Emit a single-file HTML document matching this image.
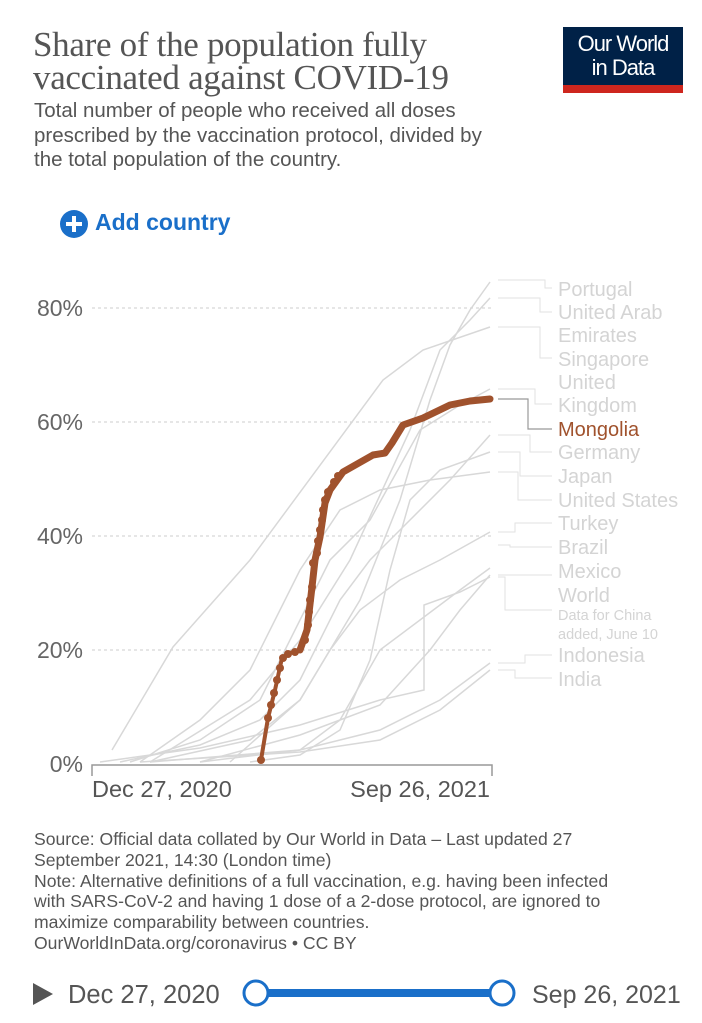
<!DOCTYPE html>
<html><head><meta charset="utf-8"><style>
body{margin:0;width:702px;height:1023px;background:#fff;position:relative;overflow:hidden;font-family:"Liberation Sans",sans-serif}
.a{position:absolute;white-space:nowrap}
.t{font-family:"Liberation Serif",serif;font-size:35px;color:#555;left:33px;line-height:33px;letter-spacing:-0.3px}
.s{left:34px;font-size:20.5px;color:#555;line-height:24.5px}
.src{left:34px;font-size:17.6px;color:#555;line-height:20.8px}
</style></head><body>
<div class="a t" style="top:28px">Share of the population fully<br>vaccinated against COVID-19</div>
<div class="a s" style="top:99px">Total number of people who received all doses<br>prescribed by the vaccination protocol, divided by<br>the total population of the country.</div>
<div class="a" style="left:563px;top:27px;width:120px;height:58px;background:#002147;color:#fff;font-size:22px;line-height:24px;text-align:center;padding-top:5px;box-sizing:border-box;letter-spacing:-1px">Our World<br>in Data</div>
<div class="a" style="left:563px;top:85px;width:120px;height:8px;background:#ce261e"></div>
<div class="a" style="left:60px;top:210px;width:28px;height:28px;border-radius:50%;background:#1a6fc9"></div>
<div class="a" style="left:66px;top:222px;width:16px;height:4px;background:#fff"></div>
<div class="a" style="left:72px;top:216px;width:4px;height:16px;background:#fff"></div>
<div class="a" style="left:95px;top:209px;font-size:23px;color:#1a6fc9;font-weight:bold">Add country</div>
<svg class="a" style="left:0;top:0" width="702" height="1023">
<g stroke="#ccc" stroke-dasharray="3,3" stroke-width="1">
<line x1="92" x2="492" y1="308" y2="308"/><line x1="92" x2="492" y1="422" y2="422"/><line x1="92" x2="492" y1="536" y2="536"/><line x1="92" x2="492" y1="650" y2="650"/></g>
<g font-size="23" fill="#666" text-anchor="end"><text x="83" y="316">80%</text><text x="83" y="430">60%</text><text x="83" y="544">40%</text><text x="83" y="658">20%</text><text x="83" y="772">0%</text></g>
<path d="M92,776 V765 H492 V776" fill="none" stroke="#999" stroke-width="1.5"/>
<g font-size="23.5" fill="#555"><text x="92" y="797">Dec 27, 2020</text><text x="490" y="797" text-anchor="end">Sep 26, 2021</text></g>
<g fill="none" stroke="#d8d8d8" stroke-width="1.5">
<path d="M112,750 L173,647 L250,560 L383,380 L423,350 L490,327"/>
<path d="M230,762 L300,700 L360,600 L400,500 L430,400 L450,345 L470,310 L490,282"/>
<path d="M150,762 L250,700 L300,640 L350,560 L410,430 L440,350 L470,320 L490,298"/>
<path d="M130,762 L200,740 L260,700 L300,620 L330,560 L370,520 L420,430 L460,405 L490,389"/>
<path d="M120,762 L200,745 L260,720 L300,680 L340,600 L370,560 L410,520 L450,480 L490,435"/>
<path d="M250,762 L300,755 L340,730 L370,660 L390,570 L410,500 L440,470 L490,452"/>
<path d="M140,762 L200,720 L250,670 L300,570 L340,510 L380,490 L430,480 L490,472"/>
<path d="M150,762 L250,740 L300,700 L330,650 L360,610 L400,580 L440,560 L490,532"/>
<path d="M200,762 L300,750 L340,720 L380,650 L420,620 L460,590 L490,568"/>
<path d="M100,762 L200,748 L300,725 L380,700 L424,690 L424,605 L460,592 L490,577"/>
<path d="M200,762 L300,735 L380,705 L430,650 L460,610 L490,575"/>
<path d="M150,762 L300,750 L380,730 L440,700 L490,663"/>
<path d="M140,762 L300,752 L380,740 L440,710 L490,670"/>
</g>
<g fill="none" stroke="#e2e2e2" stroke-width="1">
<path d="M498,280 H545 V288 H552"/><path d="M498,298 H540 V312 H552"/><path d="M498,327 H540 V358 H552"/>
<path d="M498,389 H535 V404 H552"/><path d="M498,435 H530 V452 H552"/><path d="M498,452 H520 V476 H552"/>
<path d="M498,472 H518 V500 H552"/><path d="M498,532 H515 V523 H552"/><path d="M498,545 H510 V547 H552"/>
<path d="M498,577 H505 V610 H552"/><path d="M498,575 H552"/><path d="M498,663 H525 V655 H552"/><path d="M498,670 H515 V678 H552"/>
</g>
<path d="M498,399 H528 V429 H552" fill="none" stroke="#999" stroke-width="1.2"/>
<g font-size="20" fill="#d4d4d4">
<text x="558" y="296">Portugal</text><text x="558" y="319">United Arab</text><text x="558" y="342">Emirates</text><text x="558" y="366">Singapore</text><text x="558" y="389">United</text><text x="558" y="412">Kingdom</text>
<text x="558" y="436" fill="#a0522d">Mongolia</text>
<text x="558" y="459">Germany</text><text x="558" y="483">Japan</text><text x="558" y="507">United States</text><text x="558" y="530">Turkey</text><text x="558" y="554">Brazil</text><text x="558" y="578">Mexico</text><text x="558" y="602">World</text>
<text x="558" y="620" font-size="14.5">Data for China</text><text x="558" y="639" font-size="14.5">added, June 10</text>
<text x="558" y="662">Indonesia</text><text x="558" y="686">India</text></g>
<path d="M261,760 L268,718 L275,690 L282,658 L290,653 L300,650 L307,630 L312,587 L315,560 L320,537 L325,503 L330,490 L343,472 L373,455 L385,453 L392,443 L403,425 L423,418 L450,405 L470,401 L490,399" fill="none" stroke="#a0522d" stroke-width="4" stroke-linejoin="round"/>
<path d="M300,650 L307,630 L312,587 L315,560 L320,537 L325,503 L330,490 L343,472 L373,455 L385,453 L392,443 L403,425 L423,418 L450,405 L470,401 L490,399" fill="none" stroke="#a0522d" stroke-width="7" stroke-linejoin="round" stroke-linecap="round"/>
<g fill="#a0522d">
<circle cx="261" cy="760" r="4"/><circle cx="268" cy="718" r="4"/><circle cx="271" cy="705" r="4"/><circle cx="274" cy="693" r="4"/><circle cx="277" cy="680" r="4"/><circle cx="280" cy="668" r="4"/><circle cx="283" cy="658" r="4"/><circle cx="288" cy="654" r="4"/><circle cx="295" cy="652" r="4"/><circle cx="305" cy="640" r="4"/><circle cx="308" cy="625" r="4"/><circle cx="309" cy="612" r="4"/><circle cx="310" cy="600" r="4"/><circle cx="312" cy="587" r="4"/><circle cx="313" cy="563" r="4"/><circle cx="317" cy="553" r="4"/><circle cx="318" cy="541" r="4"/><circle cx="320" cy="530" r="4"/><circle cx="322" cy="520" r="4"/><circle cx="323" cy="510" r="4"/><circle cx="325" cy="500" r="4"/><circle cx="328" cy="492" r="4"/><circle cx="334" cy="482" r="4"/><circle cx="338" cy="476" r="4"/>
</g>
</svg>
<div class="a src" style="top:829px">Source: Official data collated by Our World in Data – Last updated 27<br>September 2021, 14:30 (London time)<br>Note: Alternative definitions of a full vaccination, e.g. having been infected<br>with SARS-CoV-2 and having 1 dose of a 2-dose protocol, are ignored to<br>maximize comparability between countries.<br>OurWorldInData.org/coronavirus • CC BY</div>
<svg class="a" style="left:0;top:970" width="702" height="50">
<polygon points="33,13 33,35 53,24" fill="#555"/>
<text x="68" y="33" font-size="25.5" fill="#555">Dec 27, 2020</text>
<line x1="256" x2="502" y1="23" y2="23" stroke="#1a6fc9" stroke-width="8"/>
<circle cx="256" cy="23" r="12" fill="#fff" stroke="#1a6fc9" stroke-width="3"/>
<circle cx="502" cy="23" r="12" fill="#fff" stroke="#1a6fc9" stroke-width="3"/>
<text x="532" y="33" font-size="25" fill="#555">Sep 26, 2021</text>
</svg>
</body></html>
